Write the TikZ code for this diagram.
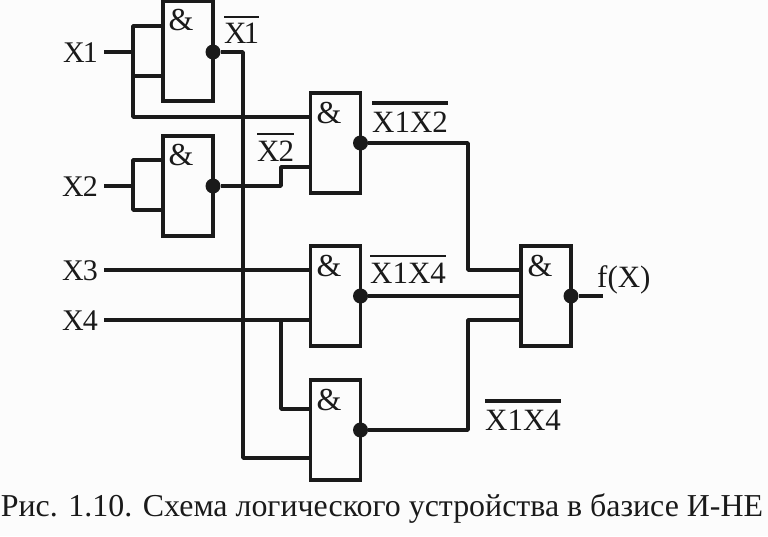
\documentclass[tikz,border=0pt]{standalone}
\usepackage{fontspec}
\setmainfont{Liberation Serif}
\usetikzlibrary{calc}
\definecolor{ink}{HTML}{1A1A1A}
\definecolor{paper}{HTML}{FCFCFC}
\tikzset{
  x=1pt,y=-1pt,
  gate/.style={draw=ink,line width=3.4pt,minimum width=50pt,minimum height=100pt,inner sep=0pt,outer sep=0pt},
  amp/.style={font=\fontsize{32}{32}\selectfont,text=ink,inner sep=0pt},
  bubble/.style={circle,fill=ink,minimum size=15pt,inner sep=0pt,outer sep=0pt},
  wire/.style={draw=ink,line width=3.4pt,line join=round},
  sig/.style={font=\fontsize{31}{31}\selectfont,text=ink,inner sep=0pt,anchor=base west},
  inlab/.style={font=\fontsize{30}{30}\selectfont,text=ink,inner xsep=6pt,inner ysep=0pt,anchor=base east},
  thinbar/.style={draw=ink,line width=1.6pt},
  thickbar/.style={draw=ink,line width=4.4pt},
}
\begin{document}
\begin{tikzpicture}
\useasboundingbox[fill=paper] (0,0) rectangle (768,536);
% gates
\node[gate] (g1) at (188,51) {};
\node[gate] (g2) at (188,186) {};
\node[gate] (g3) at (335.5,143) {};
\node[gate] (g4) at (335.5,296) {};
\node[gate] (g5) at (335.5,430) {};
\node[gate] (g6) at (546,296) {};
\node[amp] (a1) at (181,20) {\&};
\node[amp] (a2) at (181,155) {\&};
\node[amp] (a3) at (329,113) {\&};
\node[amp] (a4) at (329,266) {\&};
\node[amp] (a5) at (329,400) {\&};
\node[amp] (a6) at (540,266) {\&};
% output bubbles
\node[bubble] (b1) at (g1.east |- 0,52) {};
\node[bubble] (b2) at (g2.east |- 0,186) {};
\node[bubble] (b3) at (g3.east |- 0,143) {};
\node[bubble] (b4) at (g4.east |- 0,296) {};
\node[bubble] (b5) at (g5.east |- 0,430) {};
\node[bubble] (b6) at (g6.east |- 0,296) {};
% input labels
\node[inlab] (x1) at (104,62) {X\kern-2pt 1};
\node[inlab] (x2) at (104,196) {X\kern-1pt 2};
\node[inlab] (x3) at (104,280) {X\kern-1pt 3};
\node[inlab] (x4) at (104,330) {X\kern-1pt 4};
% junctions
\coordinate (p1) at (104,52);
\coordinate (p2) at (104,186);
\coordinate (p3) at (104,270);
\coordinate (p4) at (104,320);
\coordinate (t1) at (133,26);
\coordinate (m1) at (133,76);
\coordinate (l1) at (133,117);
\coordinate (t2) at (133,160);
\coordinate (m2) at (133,210);
\coordinate (bus) at (243,458);
\coordinate (s1) at (281,186);
\coordinate (s2) at (281,167);
\coordinate (s3) at (281,320);
\coordinate (s4) at (281,409);
\coordinate (o3) at (468,143);
\coordinate (i3) at (468,270);
\coordinate (o5) at (468,430);
\coordinate (i5) at (468,320);
\coordinate (out) at (603,296);
% connectors
\draw[wire] (p1) -- (t1 |- p1);
\draw[wire] (t1 -| g1.west) -- (t1) -- (l1) -- (l1 -| g3.west);
\draw[wire] (m1) -- (m1 -| g1.west);
\draw[wire] (b1) -- (bus |- b1) -- (bus) -- (bus -| g5.west);
\draw[wire] (p2) -- (t2 |- p2);
\draw[wire] (t2 -| g2.west) -- (t2) -- (m2) -- (m2 -| g2.west);
\draw[wire] (b2) -- (s1) -- (s2) -- (s2 -| g3.west);
\draw[wire] (p3) -- (p3 -| g4.west);
\draw[wire] (p4) -- (p4 -| g4.west);
\draw[wire] (s3) -- (s4) -- (s4 -| g5.west);
\draw[wire] (b3) -- (o3) -- (i3) -- (i3 -| g6.west);
\draw[wire] (b4) -- (b4 -| g6.west);
\draw[wire] (b5) -- (o5) -- (i5) -- (i5 -| g6.west);
\draw[wire] (b6) -- (out);
% signal labels
\node[sig] (l1x) at (224,43) {X\kern-3pt 1};
\node[sig] (l2x) at (257,161) {X\kern-1pt 2};
\node[sig] (l3x) at (372,132) {X1X2};
\node[sig] (l4x) at (370,283) {X1X4};
\node[sig] (l5x) at (485,430) {X1X4};
\node[sig] (fx) at (597,287) {f(X)};
\draw[thinbar] (l1x.west |- 0,17) -- (l1x.east |- 0,17);
\draw[thinbar] (l2x.west |- 0,134) -- (l2x.east |- 0,134);
\draw[thickbar] (l3x.west |- 0,103) -- (l3x.east |- 0,103);
\draw[thinbar] (l4x.west |- 0,256) -- (l4x.east |- 0,256);
\draw[thickbar] (l5x.west |- 0,401) -- (l5x.east |- 0,401);
% caption
\node[font=\fontsize{31.9}{31.9}\selectfont,text=ink,inner sep=0pt,anchor=base] (cap) at (382,516) {Рис. 1.10. Схема логического устройства в базисе И-НЕ};
\end{tikzpicture}
\end{document}
